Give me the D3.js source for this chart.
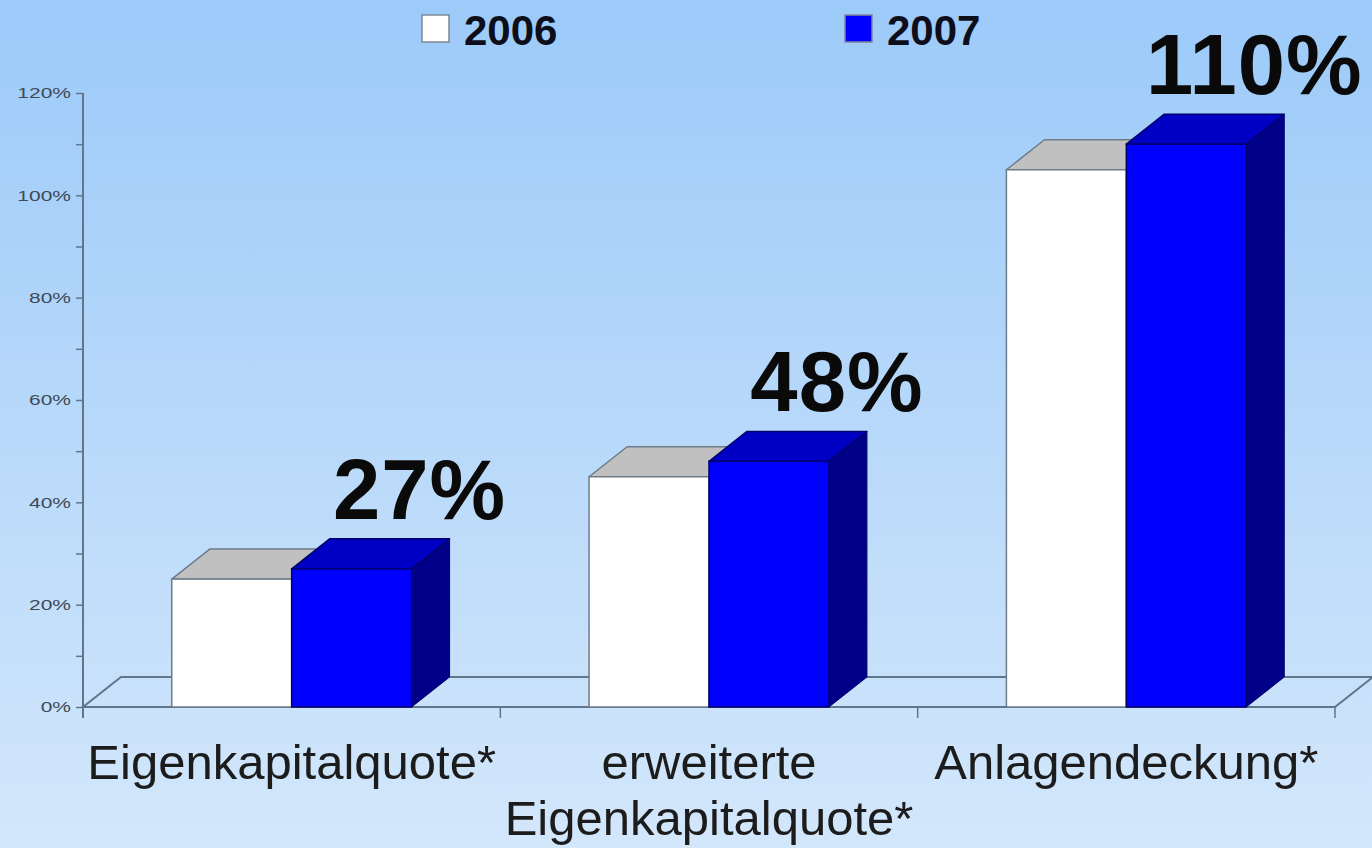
<!DOCTYPE html>
<html>
<head>
<meta charset="utf-8">
<script src="https://cdn.jsdelivr.net/npm/d3@7"></script>
<style>
  html, body { margin: 0; padding: 0; }
  body { width: 1372px; height: 848px; overflow: hidden; }
  svg { display: block; }
</style>
</head>
<body>
<svg id="chart" width="1372" height="848"></svg>
<script>
// ---- data ----
const categories = ["Eigenkapitalquote*", "erweiterte\nEigenkapitalquote*", "Anlagendeckung*"];
const seriesNames = ["2006", "2007"];
const values2006 = [0.25, 0.45, 1.05];
const values2007 = [0.27, 0.48, 1.10];
const valueLabels = ["27%", "48%", "110%"];
const yTicks = [0, 0.2, 0.4, 0.6, 0.8, 1.0, 1.2];
const yMinorTicks = [0.1, 0.3, 0.5, 0.7, 0.9, 1.1];

// ---- layout ----
const W = 1372, H = 848;
const plotLeft = 83, plotRight = 1335, plotTop = 93, plotBottom = 707;
const depth = { dx: 38, dy: -30 };

const svg = d3.select("#chart");

// background gradient
const defs = svg.append("defs");
const grad = defs.append("linearGradient").attr("id", "bg").attr("x1", 0).attr("y1", 0).attr("x2", 0).attr("y2", 1);
grad.append("stop").attr("offset", "0%").attr("stop-color", "#9ccaf9");
grad.append("stop").attr("offset", "100%").attr("stop-color", "#d3e7fb");
svg.append("rect").attr("width", W).attr("height", H).attr("fill", "url(#bg)");

const x0 = d3.scaleBand().domain(categories).range([plotLeft, plotRight]).paddingInner(0).paddingOuter(0);
const x1 = d3.scaleBand().domain(seriesNames).range([0, x0.bandwidth()]).paddingInner(0).paddingOuter(0.74);
const y = d3.scaleLinear().domain([0, 1.2]).range([plotBottom, plotTop]);

const lineColor = "#62768b";

// floor
const floorPts = [[plotLeft, plotBottom], [plotRight, plotBottom], [plotRight + depth.dx, plotBottom + depth.dy], [plotLeft + depth.dx, plotBottom + depth.dy]];
svg.append("polygon")
  .attr("points", floorPts.map(p => p.join(",")).join(" "))
  .attr("fill", "none")
  .attr("stroke", lineColor)
  .attr("stroke-width", 2);

// y axis
const yAxis = d3.axisLeft(y).tickValues(yTicks).tickFormat(d3.format(".0%")).tickSize(7).tickPadding(5);
const gy = svg.append("g").attr("transform", `translate(${plotLeft},0)`).call(yAxis);
gy.select(".domain").attr("stroke", lineColor).attr("stroke-width", 2)
  .attr("d", `M0,${plotTop}V${plotBottom + 11}`);
gy.selectAll(".tick line").attr("stroke", lineColor).attr("stroke-width", 1.5);
gy.selectAll(".tick text")
  .attr("fill", "#404a55")
  .attr("font-family", "Liberation Sans, Arial, sans-serif")
  .attr("font-size", 15)
  .each(function () {
    const t = d3.select(this);
    const xx = +t.attr("x");
    t.attr("x", xx / 1.4).attr("transform", "scale(1.4,1)");
  });
const yMinor = d3.axisLeft(y).tickValues(yMinorTicks).tickFormat("").tickSize(7);
const gym = svg.append("g").attr("transform", `translate(${plotLeft},0)`).call(yMinor);
gym.select(".domain").remove();
gym.selectAll(".tick line").attr("stroke", lineColor).attr("stroke-width", 1.5);

// x axis ticks (category boundaries)
const xBounds = categories.map(c => x0(c)).concat([plotRight]);
svg.append("g").selectAll("line").data(xBounds).join("line")
  .attr("x1", d => d).attr("x2", d => d)
  .attr("y1", plotBottom).attr("y2", plotBottom + 11)
  .attr("stroke", lineColor).attr("stroke-width", 1.5);

// bars
const styles = {
  "2006": { front: "#ffffff", top: "#c0c0c0", side: "#a8a8a8", stroke: "#6e7c8a" },
  "2007": { front: "#0000ff", top: "#0000c4", side: "#000088", stroke: "#00006a" }
};
const barData = [];
categories.forEach((c, i) => {
  barData.push({ cat: c, s: "2006", v: values2006[i] });
  barData.push({ cat: c, s: "2007", v: values2007[i] });
});
const gBars = svg.append("g");
barData.forEach(d => {
  const xL = x0(d.cat) + x1(d.s);
  const xR = xL + x1.bandwidth();
  const yT = y(d.v);
  const yB = y(0);
  const st = styles[d.s];
  const g = gBars.append("g");
  g.append("polygon")
    .attr("points", [[xR, yB], [xR + depth.dx, yB + depth.dy], [xR + depth.dx, yT + depth.dy], [xR, yT]].map(p => p.join(",")).join(" "))
    .attr("fill", st.side).attr("stroke", st.stroke).attr("stroke-width", 1).attr("stroke-linejoin", "round");
  g.append("polygon")
    .attr("points", [[xL, yT], [xR, yT], [xR + depth.dx, yT + depth.dy], [xL + depth.dx, yT + depth.dy]].map(p => p.join(",")).join(" "))
    .attr("fill", st.top).attr("stroke", st.stroke).attr("stroke-width", 1.5).attr("stroke-linejoin", "round");
  g.append("rect")
    .attr("x", xL).attr("y", yT).attr("width", xR - xL).attr("height", yB - yT)
    .attr("fill", st.front).attr("stroke", st.stroke).attr("stroke-width", 1.5);
});

// value labels
svg.append("g").selectAll("text").data(categories).join("text")
  .attr("x", (c) => x0(c) + x1("2007") + x1.bandwidth() + 8)
  .attr("y", (c, i) => y(values2007[i]) + depth.dy - 20)
  .attr("text-anchor", "middle")
  .attr("font-family", "Liberation Sans, Arial, sans-serif")
  .attr("font-weight", "bold")
  .attr("font-size", 85)
  .attr("letter-spacing", 1)
  .attr("fill", "#0a0a0a")
  .text((c, i) => valueLabels[i]);

// category labels
const gCat = svg.append("g");
categories.forEach(c => {
  const lines = c.split("\n");
  const t = gCat.append("text")
    .attr("x", x0(c) + x0.bandwidth() / 2)
    .attr("y", 779)
    .attr("text-anchor", "middle")
    .attr("font-family", "Liberation Sans, Arial, sans-serif")
    .attr("font-size", 49)
    .attr("fill", "#1c1c1c");
  lines.forEach((ln, i) => {
    t.append("tspan").attr("x", x0(c) + x0.bandwidth() / 2).attr("dy", i === 0 ? 0 : 56).text(ln);
  });
});

// legend
const legendPos = [{ s: "2006", x: 422 }, { s: "2007", x: 845 }];
const gLeg = svg.append("g");
legendPos.forEach(l => {
  gLeg.append("rect").attr("x", l.x).attr("y", 15).attr("width", 27).attr("height", 27)
    .attr("fill", styles[l.s].front).attr("stroke", "#7d8894").attr("stroke-width", 1.5);
  gLeg.append("text").attr("x", l.x + 42).attr("y", 45)
    .attr("font-family", "Liberation Sans, Arial, sans-serif")
    .attr("font-weight", "bold").attr("font-size", 42).attr("fill", "#0e0e1a")
    .text(l.s);
});
</script>
</body>
</html>
